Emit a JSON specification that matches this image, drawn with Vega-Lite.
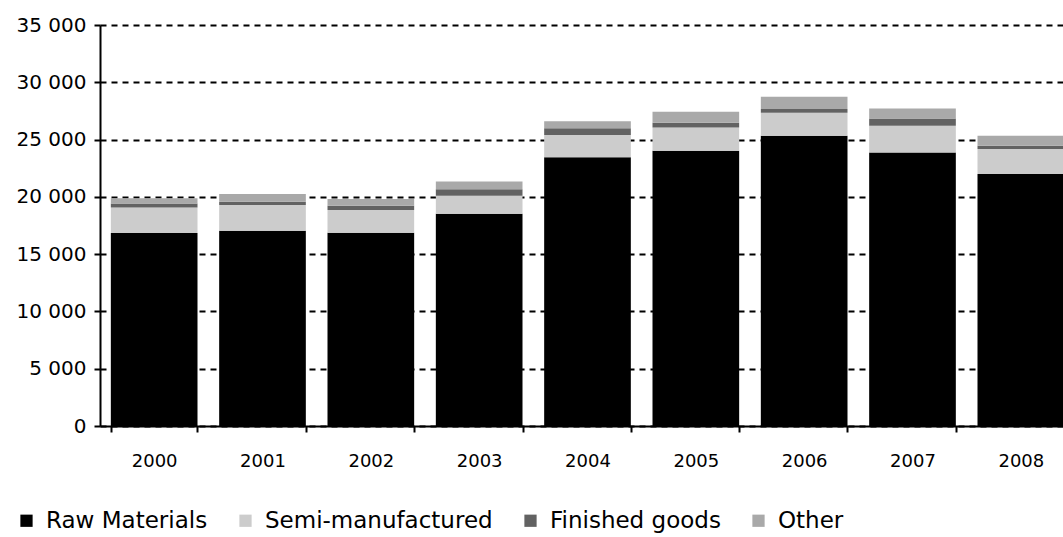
{
  "$schema": "https://vega.github.io/schema/vega-lite/v6.json",
  "width": 975,
  "height": 401,
  "autosize": "none",
  "padding": {"left": 100, "top": 25, "right": 0, "bottom": 111},
  "background": "white",
  "config": {"view": {"stroke": null}, "font": "DejaVu Sans"},
  "data": {"values": [
    {"year": "2000", "type": "Raw Materials", "value": 16840},
    {"year": "2000", "type": "Semi-manufactured", "value": 2240},
    {"year": "2000", "type": "Finished goods", "value": 350},
    {"year": "2000", "type": "Other", "value": 440},
    {"year": "2001", "type": "Raw Materials", "value": 17040},
    {"year": "2001", "type": "Semi-manufactured", "value": 2240},
    {"year": "2001", "type": "Finished goods", "value": 290},
    {"year": "2001", "type": "Other", "value": 670},
    {"year": "2002", "type": "Raw Materials", "value": 16870},
    {"year": "2002", "type": "Semi-manufactured", "value": 1980},
    {"year": "2002", "type": "Finished goods", "value": 370},
    {"year": "2002", "type": "Other", "value": 590},
    {"year": "2003", "type": "Raw Materials", "value": 18520},
    {"year": "2003", "type": "Semi-manufactured", "value": 1580},
    {"year": "2003", "type": "Finished goods", "value": 560},
    {"year": "2003", "type": "Other", "value": 670},
    {"year": "2004", "type": "Raw Materials", "value": 23450},
    {"year": "2004", "type": "Semi-manufactured", "value": 1940},
    {"year": "2004", "type": "Finished goods", "value": 590},
    {"year": "2004", "type": "Other", "value": 630},
    {"year": "2005", "type": "Raw Materials", "value": 24020},
    {"year": "2005", "type": "Semi-manufactured", "value": 2040},
    {"year": "2005", "type": "Finished goods", "value": 410},
    {"year": "2005", "type": "Other", "value": 960},
    {"year": "2006", "type": "Raw Materials", "value": 25330},
    {"year": "2006", "type": "Semi-manufactured", "value": 2010},
    {"year": "2006", "type": "Finished goods", "value": 320},
    {"year": "2006", "type": "Other", "value": 1070},
    {"year": "2007", "type": "Raw Materials", "value": 23880},
    {"year": "2007", "type": "Semi-manufactured", "value": 2320},
    {"year": "2007", "type": "Finished goods", "value": 650},
    {"year": "2007", "type": "Other", "value": 870},
    {"year": "2008", "type": "Raw Materials", "value": 21990},
    {"year": "2008", "type": "Semi-manufactured", "value": 2180},
    {"year": "2008", "type": "Finished goods", "value": 290},
    {"year": "2008", "type": "Other", "value": 870}
  ]},
  "transform": [
    {"calculate": "indexof(['Raw Materials', 'Semi-manufactured', 'Finished goods', 'Other'], datum.type)", "as": "stackOrder"}
  ],
  "mark": {"type": "bar"},
  "encoding": {
    "x": {
      "field": "year", "type": "ordinal",
      "scale": {"paddingInner": 0.2, "paddingOuter": 0.1},
      "axis": {
        "title": null, "labelAngle": 0, "tickBand": "extent",
        "domainColor": "black", "domainWidth": 2, "tickColor": "black", "tickWidth": 2, "tickSize": 6,
        "labelFontSize": 18, "labelColor": "black", "labelPadding": 20, "grid": false
      }
    },
    "y": {
      "field": "value", "type": "quantitative", "stack": "zero",
      "scale": {"domain": [0, 35000], "nice": false},
      "axis": {
        "title": null, "values": [0, 5000, 10000, 15000, 20000, 25000, 30000, 35000],
        "labelExpr": "replace(format(datum.value, ','), ',', ' ')",
        "labelFontSize": 20, "labelColor": "black", "labelPadding": 8,
        "domainColor": "black", "domainWidth": 2, "tickColor": "black", "tickWidth": 2, "tickSize": 6,
        "grid": true, "gridColor": "black", "gridDash": [6, 5], "gridWidth": 2, "gridOpacity": 1
      }
    },
    "color": {
      "field": "type", "type": "nominal",
      "sort": ["Raw Materials", "Semi-manufactured", "Finished goods", "Other"],
      "scale": {
        "domain": ["Raw Materials", "Semi-manufactured", "Finished goods", "Other"],
        "range": ["#000000", "#cccccc", "#626262", "#a9a9a9"]
      },
      "legend": {
        "title": null, "orient": "none", "direction": "horizontal",
        "legendX": -85, "legendY": 484,
        "symbolType": "square", "symbolSize": 150, "symbolStrokeWidth": 0, "symbolOpacity": 1,
        "labelFontSize": 23, "labelColor": "black", "labelLimit": 400, "columnPadding": 26, "labelOffset": 8
      }
    },
    "order": {"field": "stackOrder", "type": "quantitative", "sort": "ascending"}
  }
}
